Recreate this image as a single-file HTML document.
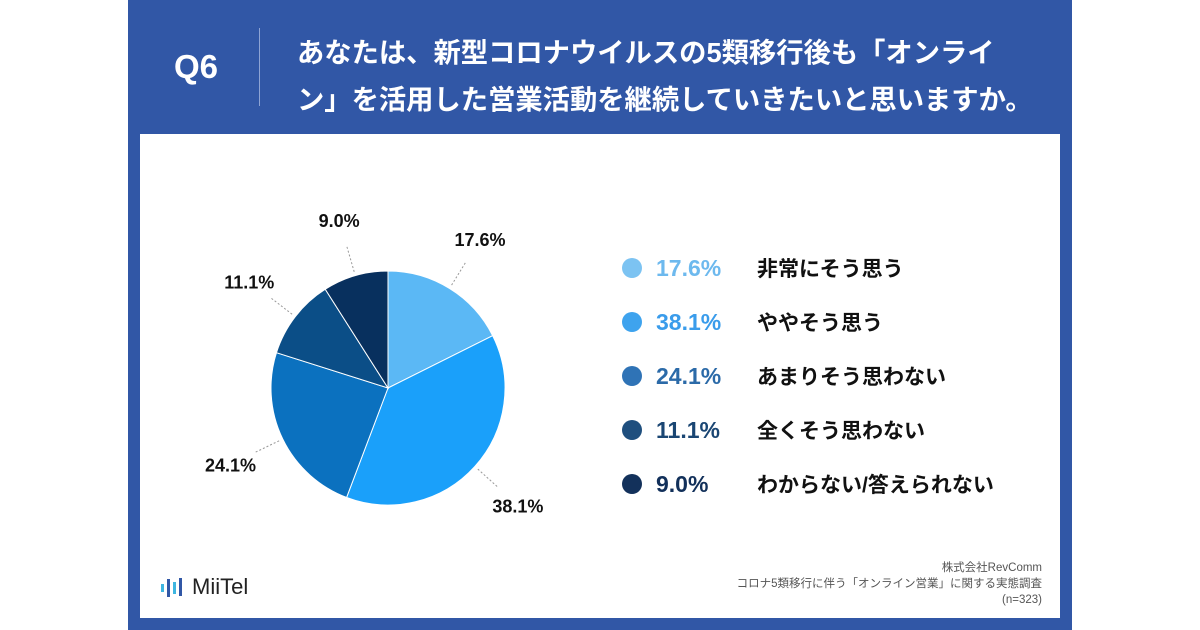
<!DOCTYPE html>
<html><head><meta charset="utf-8"><style>
body{margin:0;width:1200px;height:630px;background:#fff;position:relative;overflow:hidden;font-family:"Liberation Sans","Noto Sans CJK JP",sans-serif}
.panel{position:absolute;left:128px;top:0;width:944px;height:630px;background:#3157a6}
.card{position:absolute;left:140px;top:134px;width:920px;height:484px;background:#fff}
.q{position:absolute;left:174px;top:48px;color:#fff;font-weight:bold;font-size:33px}
.div{position:absolute;left:259px;top:28px;width:1px;height:78px;background:#8ea4d4}
.title{position:absolute;left:297px;top:29px;color:#fff;font-weight:bold;font-size:27.3px;line-height:47px;white-space:nowrap}
.leg{position:absolute;left:622px;height:30px;display:flex;align-items:center;font-weight:bold}
.dot{width:20px;height:20px;border-radius:50%;margin-right:14px}
.pct{font-size:23px;width:101px}
.lab{font-size:21px;color:#111}
.src{position:absolute;right:158px;top:560px;text-align:right;font-size:11.5px;color:#555;line-height:16px}
</style></head><body>
<div class="panel"></div>
<div class="q">Q6</div>
<div class="div"></div>
<div class="title">あなたは、新型コロナウイルスの5類移行後も「オンライ<br>ン」を活用した営業活動を継続していきたいと思いますか。</div>
<div class="card"></div>
<svg id="pie" width="1200" height="630" style="position:absolute;left:0;top:0"></svg>
<div id="legend"></div>
<div style="position:absolute;left:160px;top:574px;display:flex;align-items:center;gap:6px">
<svg width="26" height="24"><rect x="1" y="9" width="3" height="8" fill="#3fb6e0"/><rect x="7" y="4" width="3" height="18" fill="#3157a6"/><rect x="13" y="7" width="3" height="12" fill="#3fb6e0"/><rect x="19" y="3" width="3" height="18" fill="#3157a6"/></svg>
<span style="font-size:22px;color:#222">MiiTel</span></div>
<div class="src">株式会社RevComm<br>コロナ5類移行に伴う「オンライン営業」に関する実態調査<br>(n=323)</div>
<script>
const categories=["非常にそう思う","ややそう思う","あまりそう思わない","全くそう思わない","わからない/答えられない"];
const values=[17.6,38.1,24.1,11.1,9.0];
const valueLabels=["17.6%","38.1%","24.1%","11.1%","9.0%"];
const sliceColors=["#5bb8f5","#1aa0fa","#0b71bf","#0b4e87","#08305e"];
const dotColors=["#7cc3f2","#3ea3ee","#2f73b6","#1f4f7e","#13315b"];
const textColors=["#6db9ee","#3a9ceb","#2b6aa8","#1a4673","#12305a"];
const NS="http://www.w3.org/2000/svg";
const svg=document.getElementById('pie');
const cx=388,cy=388,r=117;
const total=values.reduce((a,b)=>a+b,0);
let a0=0;
function pt(a,rr){return [cx+rr*Math.sin(a),cy-rr*Math.cos(a)];}
values.forEach((v,i)=>{
 const a1=a0+v/total*2*Math.PI;
 const [x0,y0]=pt(a0,r),[x1,y1]=pt(a1,r);
 const p=document.createElementNS(NS,'path');
 p.setAttribute('d',`M${cx},${cy}L${x0},${y0}A${r},${r} 0 ${a1-a0>Math.PI?1:0} 1 ${x1},${y1}Z`);
 p.setAttribute('fill',sliceColors[i]);p.setAttribute('stroke','#fff');p.setAttribute('stroke-width','1');
 
 
 svg.appendChild(p);
 const am=(a0+a1)/2;
 const [lx0,ly0]=pt(am,r+4),[lx1,ly1]=pt(am,r+30),[tx,ty]=pt(am,r+58);
 const l=document.createElementNS(NS,'line');
 l.setAttribute('x1',lx0);l.setAttribute('y1',ly0);l.setAttribute('x2',lx1);l.setAttribute('y2',ly1);
 l.setAttribute('stroke','#999');l.setAttribute('stroke-dasharray','2,2');
 
 
 svg.appendChild(l);
 const t=document.createElementNS(NS,'text');
 t.setAttribute('x',tx);t.setAttribute('y',ty+7);t.setAttribute('text-anchor','middle');
 t.setAttribute('font-size','18');t.setAttribute('font-weight','bold');t.setAttribute('fill','#111');
 t.textContent=valueLabels[i];
 
 
 svg.appendChild(t);
 a0=a1;
});
const leg=document.getElementById('legend');
categories.forEach((c,i)=>{
 const d=document.createElement('div');d.className='leg';d.style.top=(253+i*54)+'px';
 
 
 d.innerHTML=`<div class="dot" style="background:${dotColors[i]}"></div><div class="pct" style="color:${textColors[i]}">${valueLabels[i]}</div><div class="lab">${c}</div>`;
 leg.appendChild(d);
});
</script>
</body></html>
